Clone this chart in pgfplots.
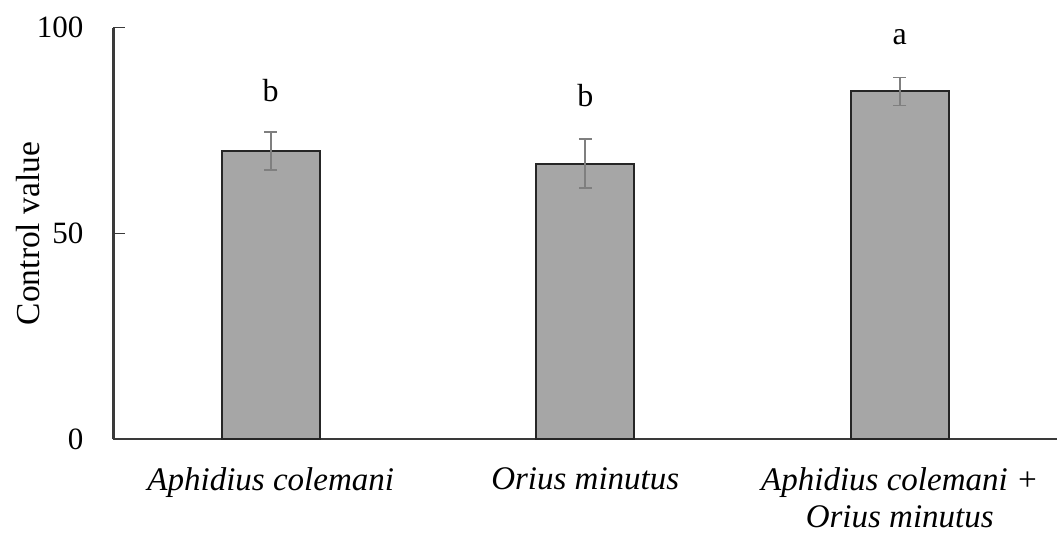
\documentclass[border=0pt]{standalone}
\usepackage{fontspec}
\setmainfont{Liberation Serif}
\usepackage{pgfplots}
\pgfplotsset{compat=1.18}

\definecolor{barfill}{HTML}{A6A6A6}
\definecolor{baredge}{HTML}{262626}
\definecolor{errcol}{HTML}{7F7F7F}
\definecolor{axiscol}{HTML}{3A3A3A}

\begin{document}
\begin{tikzpicture}
\fontsize{31}{37}\selectfont
\begin{axis}[
  scale only axis,
  width=943.5pt, height=411.6pt,
  xmin=-0.5, xmax=2.5,
  ymin=0, ymax=100,
  axis lines*=left,
  axis line style={axiscol, line width=2.2pt},
  xtick={0,1,2},
  xticklabels={\textit{Aphidius colemani},\textit{Orius minutus},{\textit{Aphidius colemani +}\\\textit{Orius minutus}}},
  x tick style={draw=none},
  xticklabel style={align=center, anchor=north, inner sep=0pt, yshift=-28pt, font=\fontsize{33}{37}\selectfont},
  ytick={0,50,100},
  tick align=inside,
  major tick length=12pt,
  y tick style={axiscol, line width=1.5pt},
  yticklabel style={anchor=east, inner sep=0pt, xshift=-30pt, font=\fontsize{31}{37}\selectfont},
  /pgf/number format/assume math mode=true,
  clip=false,
]
\addplot[
  ybar, bar width=98pt,
  fill=barfill, draw=baredge, line width=2pt,
  error bars/.cd, y dir=both, y explicit,
  error bar style={errcol, line width=1.6pt},
  error mark options={rotate=90, mark size=6.5pt, errcol, line width=1.6pt},
] coordinates {
  (0,70.0) +- (0,4.6)
  (1,67.0) +- (0,6.0)
  (2,84.5) +- (0,3.4)
};
% significance letters
\node[anchor=base, inner sep=0pt, font=\fontsize{32}{37}\selectfont] at (axis cs:0,82.0) {b};
\node[anchor=base, inner sep=0pt, font=\fontsize{32}{37}\selectfont] at (axis cs:1,80.8) {b};
\node[anchor=base, inner sep=0pt, font=\fontsize{32}{37}\selectfont] at (axis cs:2,95.8) {a};
\coordinate (O) at (rel axis cs:0,0);
\coordinate (ymid) at (rel axis cs:0,0.5);
\end{axis}
\node[rotate=90, inner sep=0pt, font=\fontsize{33.5}{37}\selectfont] at ([xshift=-85.5pt]ymid) {Control value};
\pgfresetboundingbox
\path ([xshift=-113.5pt,yshift=-97.7pt]O) rectangle ++(1058pt,537pt);
\end{tikzpicture}
\end{document}
